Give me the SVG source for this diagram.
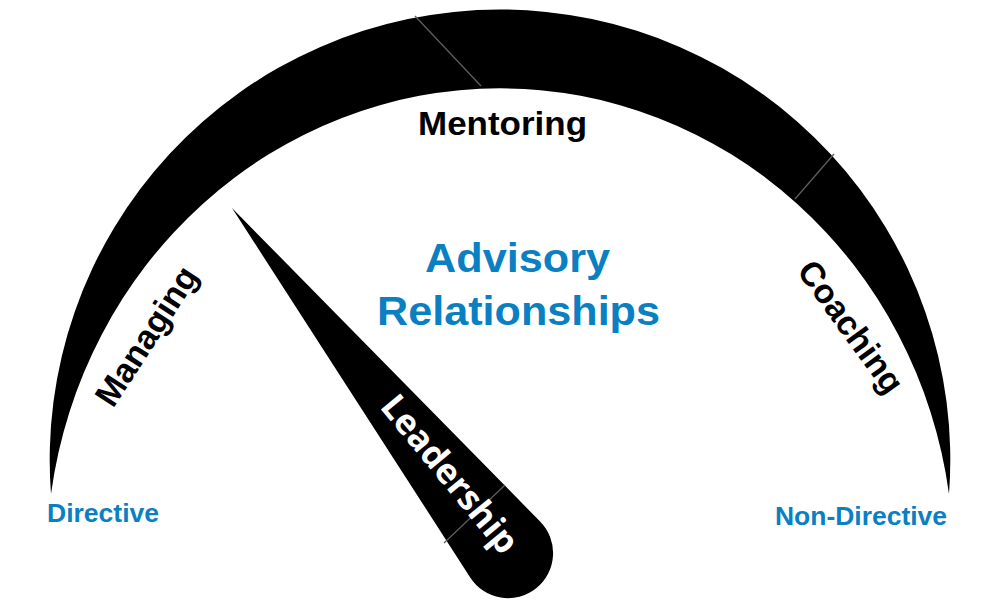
<svg xmlns="http://www.w3.org/2000/svg" width="1000" height="609" viewBox="0 0 1000 609">
  <style>
    .lbl { font-family: "Liberation Sans", Arial, sans-serif; font-weight: bold; fill: #000; }
    .blue { font-family: "Liberation Sans", Arial, sans-serif; font-weight: bold; fill: #0a80c2; }
    .needle-lbl { font-family: "Open Sans", "Liberation Sans", sans-serif; font-weight: bold; fill: #fff; }
    .divider { stroke: #5e5e5e; stroke-width: 1.3; fill: none; }
  </style>
  <rect x="0" y="0" width="1000" height="609" fill="#fff"/>

  <g id="arc">
    <path d="M 51,494 A 450.3 450.3 0 1 1 949,494 A 453.5 472 0 0 0 51,494 Z" fill="#000"/>
    <line class="divider" x1="415" y1="16" x2="481" y2="86"/>
    <line class="divider" x1="834" y1="154" x2="795" y2="199"/>
  </g>

  <g id="needle">
    <path d="M 232,208 L 540.1,521.5 A 45 45 0 1 1 470.2,577.4 Z" fill="#000"/>
    <line class="divider" x1="444" y1="543" x2="505" y2="485"/>
    <text class="needle-lbl" font-size="35" transform="translate(379,407) rotate(50.5)" x="0" y="0">Leadership</text>
  </g>

  <g id="managing">
    <text class="lbl" font-size="34" transform="translate(113,409) rotate(-57)" x="0" y="0">Managing</text>
  </g>

  <g id="mentoring">
    <text class="lbl" font-size="33" x="418" y="135" textLength="169" lengthAdjust="spacingAndGlyphs">Mentoring</text>
  </g>

  <g id="coaching">
    <text class="lbl" font-size="34" transform="translate(796,271) rotate(54)" x="0" y="0">Coaching</text>
  </g>

  <g id="title">
    <text class="blue" font-size="41" x="425" y="272" textLength="185" lengthAdjust="spacingAndGlyphs">Advisory</text>
    <text class="blue" font-size="41" x="377" y="325" textLength="283" lengthAdjust="spacingAndGlyphs">Relationships</text>
  </g>

  <g id="directive">
    <text class="blue" font-size="25" x="47" y="522" textLength="112" lengthAdjust="spacingAndGlyphs">Directive</text>
  </g>

  <g id="non-directive">
    <text class="blue" font-size="25" x="775" y="525" textLength="172" lengthAdjust="spacingAndGlyphs">Non-Directive</text>
  </g>

  <g id="connectors"></g>
</svg>
